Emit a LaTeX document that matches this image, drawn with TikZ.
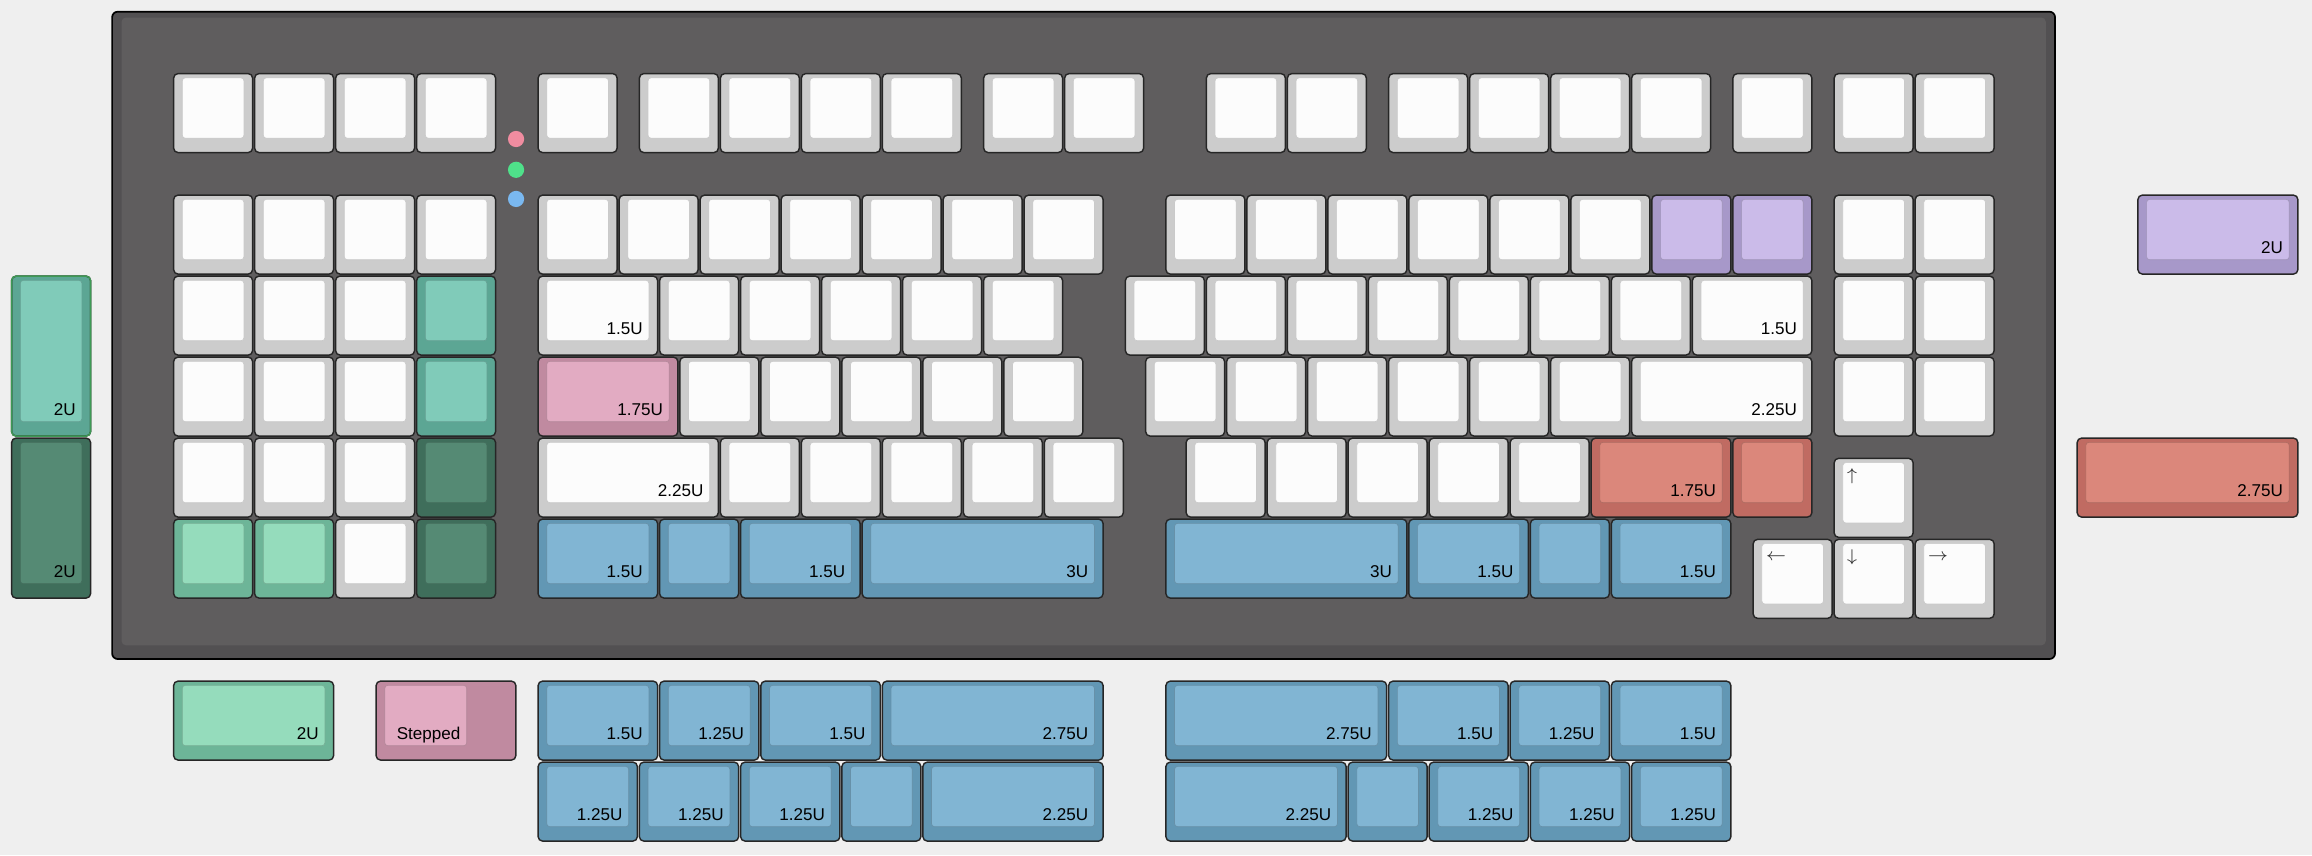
\documentclass[tikz,border=0pt]{standalone}
\usepackage{fontspec}
\setmainfont{Liberation Sans}

\definecolor{pagebg}{HTML}{EFEFEF}
\definecolor{boardrim}{HTML}{525052}
\definecolor{boardbg}{HTML}{5F5D5E}
\definecolor{wside}{HTML}{CCCCCC}    \definecolor{wtop}{HTML}{FCFCFC}
\definecolor{mintside}{HTML}{5CA694} \definecolor{minttop}{HTML}{80CBB9}
\definecolor{pineside}{HTML}{3F6E5B} \definecolor{pinetop}{HTML}{558A74}
\definecolor{leafside}{HTML}{6DB598} \definecolor{leaftop}{HTML}{95DCBC}
\definecolor{roseside}{HTML}{C08AA0} \definecolor{rosetop}{HTML}{E2ABC2}
\definecolor{lilacside}{HTML}{A798C9}\definecolor{lilactop}{HTML}{CBBBE9}
\definecolor{coralside}{HTML}{C06B62}\definecolor{coraltop}{HTML}{DB877B}
\definecolor{skyside}{HTML}{6297B4}  \definecolor{skytop}{HTML}{81B5D3}
\definecolor{ledpink}{HTML}{F08CA0}
\definecolor{ledgreen}{HTML}{4FE08A}
\definecolor{ledblue}{HTML}{7AB8F0}
\definecolor{mintrim}{HTML}{3E9A55}

% #1 colour set, #2 x, #3 y (down), #4 width, #5 height, #6 label
\newcommand{\keycap}[6]{%
  \filldraw[keyside=#1side] ({#2+0.012},{#3+0.012}) rectangle ({#2+#4-0.012},{#3+#5-0.012});
  \filldraw[keytop=#1top] ({#2+0.12},{#3+0.065}) rectangle ({#2+#4-0.12},{#3+#5-0.19});
  \node[caplabel] at ({#2+#4-0.19},{#3+#5-0.27}) {#6};}

\begin{document}
\begin{tikzpicture}[x=1cm, y=-1cm]
\tikzset{
  keyside/.style={fill=#1, draw=black!85, line width=0.5pt, rounded corners=1.6pt},
  keytop/.style={fill=#1, draw=#1!80!black, line width=0.25pt, rounded corners=1pt},
  caplabel/.style={anchor=base east, inner sep=0pt, font=\fontsize{6}{7}\selectfont},
  arrowlabel/.style={anchor=west, inner sep=0pt, text=black!80, font=\fontsize{6.5}{8}\selectfont},
  led/.style={circle, minimum size=0.2cm, inner sep=0pt},
}

\useasboundingbox (-2.131,-0.896) rectangle (26.412,9.66);
\fill[pagebg] (-2.131,-0.896) rectangle (26.412,9.66);

% case
\filldraw[fill=boardrim, draw=black, line width=0.6pt, rounded corners=2pt] (-0.747,-0.752) rectangle (23.24,7.24);
\fill[boardbg, rounded corners=1.5pt] (-0.63,-0.68) rectangle (23.125,7.07);

% indicator leds
\node[led, fill=ledpink]  (capsled)   at (4.24,0.82) {};
\node[led, fill=ledgreen] (numled)    at (4.24,1.2)  {};
\node[led, fill=ledblue]  (scrollled) at (4.24,1.56) {};

% function row
\foreach \x in {0,1,2,3,4.5,5.75,6.75,7.75,8.75,10,11,12.75,13.75,15,16,17,18,19.25,20.5,21.5}
  \keycap{w}{\x}{0}{1}{1}{};

% number row
\foreach \x in {0,1,2,3,4.5,5.5,6.5,7.5,8.5,9.5,10.5,12.25,13.25,14.25,15.25,16.25,17.25,20.5,21.5}
  \keycap{w}{\x}{1.5}{1}{1}{};
\keycap{lilac}{18.25}{1.5}{1}{1}{}
\keycap{lilac}{19.25}{1.5}{1}{1}{}

% top alpha row
\foreach \x in {0,1,2,6,7,8,9,10,11.75,12.75,13.75,14.75,15.75,16.75,17.75,20.5,21.5}
  \keycap{w}{\x}{2.5}{1}{1}{};
\keycap{mint}{3}{2.5}{1}{1}{}
\keycap{w}{4.5}{2.5}{1.5}{1}{1.5U}
\keycap{w}{18.75}{2.5}{1.5}{1}{1.5U}

% home row
\foreach \x in {0,1,2,6.25,7.25,8.25,9.25,10.25,12,13,14,15,16,17,20.5,21.5}
  \keycap{w}{\x}{3.5}{1}{1}{};
\keycap{mint}{3}{3.5}{1}{1}{}
\keycap{rose}{4.5}{3.5}{1.75}{1}{1.75U}
\keycap{w}{18}{3.5}{2.25}{1}{2.25U}

% shift row
\foreach \x in {0,1,2,6.75,7.75,8.75,9.75,10.75,12.5,13.5,14.5,15.5,16.5}
  \keycap{w}{\x}{4.5}{1}{1}{};
\keycap{pine}{3}{4.5}{1}{1}{}
\keycap{w}{4.5}{4.5}{2.25}{1}{2.25U}
\keycap{coral}{17.5}{4.5}{1.75}{1}{1.75U}
\keycap{coral}{19.25}{4.5}{1}{1}{}

% bottom row
\keycap{leaf}{0}{5.5}{1}{1}{}
\keycap{leaf}{1}{5.5}{1}{1}{}
\keycap{w}{2}{5.5}{1}{1}{}
\keycap{pine}{3}{5.5}{1}{1}{}
\keycap{sky}{4.5}{5.5}{1.5}{1}{1.5U}
\keycap{sky}{6}{5.5}{1}{1}{}
\keycap{sky}{7}{5.5}{1.5}{1}{1.5U}
\keycap{sky}{8.5}{5.5}{3}{1}{3U}
\keycap{sky}{12.25}{5.5}{3}{1}{3U}
\keycap{sky}{15.25}{5.5}{1.5}{1}{1.5U}
\keycap{sky}{16.75}{5.5}{1}{1}{}
\keycap{sky}{17.75}{5.5}{1.5}{1}{1.5U}

% arrows
\keycap{w}{20.5}{4.75}{1}{1}{}
\foreach \x in {19.5,20.5,21.5}
  \keycap{w}{\x}{5.75}{1}{1}{};
\node[arrowlabel] (up)    at (20.66,4.98) {$\uparrow$};
\node[arrowlabel] (left)  at (19.66,5.98) {$\leftarrow$};
\node[arrowlabel] (down)  at (20.66,5.98) {$\downarrow$};
\node[arrowlabel] (right) at (21.66,5.98) {$\rightarrow$};

% spare caps, sides
\keycap{mint}{-2}{2.5}{1}{2}{2U}
\draw[mintrim, line width=0.5pt, rounded corners=1.6pt] (-1.988,2.512) rectangle (-1.012,4.488);
\keycap{pine}{-2}{4.5}{1}{2}{2U}
\keycap{lilac}{24.25}{1.5}{2}{1}{2U}
\keycap{coral}{23.5}{4.5}{2.75}{1}{2.75U}

% spare caps, below
\keycap{leaf}{0}{7.5}{2}{1}{2U}
\filldraw[keyside=roseside] (2.512,7.512) rectangle (4.238,8.488);
\filldraw[keytop=rosetop] (2.62,7.565) rectangle (3.63,8.31);
\node[caplabel] (stepped) at (3.56,8.23) {Stepped};

\keycap{sky}{4.5}{7.5}{1.5}{1}{1.5U}
\keycap{sky}{6}{7.5}{1.25}{1}{1.25U}
\keycap{sky}{7.25}{7.5}{1.5}{1}{1.5U}
\keycap{sky}{8.75}{7.5}{2.75}{1}{2.75U}
\keycap{sky}{4.5}{8.5}{1.25}{1}{1.25U}
\keycap{sky}{5.75}{8.5}{1.25}{1}{1.25U}
\keycap{sky}{7}{8.5}{1.25}{1}{1.25U}
\keycap{sky}{8.25}{8.5}{1}{1}{}
\keycap{sky}{9.25}{8.5}{2.25}{1}{2.25U}

\keycap{sky}{12.25}{7.5}{2.75}{1}{2.75U}
\keycap{sky}{15}{7.5}{1.5}{1}{1.5U}
\keycap{sky}{16.5}{7.5}{1.25}{1}{1.25U}
\keycap{sky}{17.75}{7.5}{1.5}{1}{1.5U}
\keycap{sky}{12.25}{8.5}{2.25}{1}{2.25U}
\keycap{sky}{14.5}{8.5}{1}{1}{}
\keycap{sky}{15.5}{8.5}{1.25}{1}{1.25U}
\keycap{sky}{16.75}{8.5}{1.25}{1}{1.25U}
\keycap{sky}{18}{8.5}{1.25}{1}{1.25U}

\end{tikzpicture}
\end{document}
